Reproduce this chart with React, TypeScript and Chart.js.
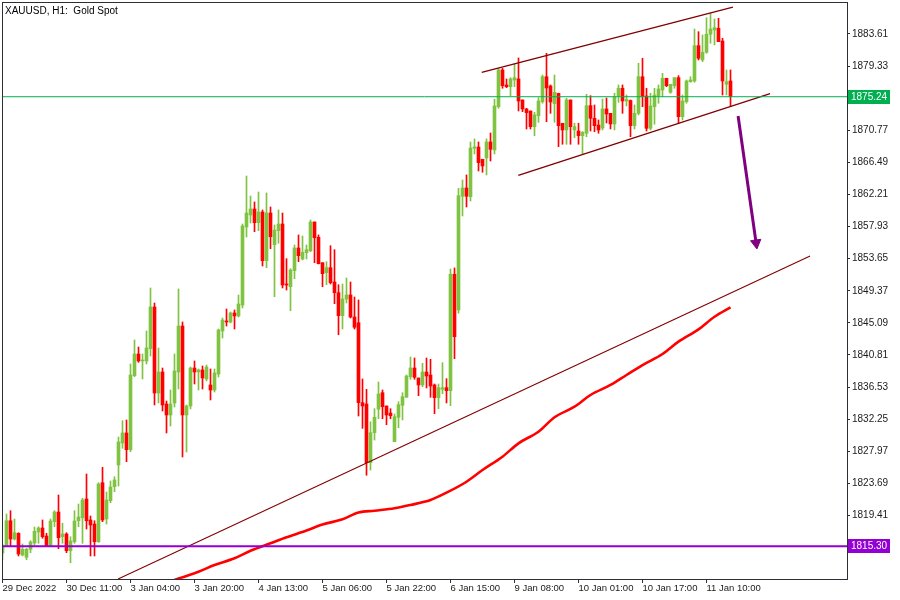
import { useEffect, useRef } from 'react';
import { Chart, registerables } from 'chart.js';

Chart.register(...registerables);

const TITLE = 'XAUUSD, H1:  Gold Spot';

const xLabelIdx = [0, 16, 32, 48, 64, 80, 96, 112, 128, 144, 160, 176];
const xLabels = ['29 Dec 2022', '30 Dec 11:00', '3 Jan 04:00', '3 Jan 20:00', '4 Jan 13:00', '5 Jan 06:00', '5 Jan 22:00', '6 Jan 15:00', '9 Jan 08:00', '10 Jan 01:00', '10 Jan 17:00', '11 Jan 10:00'];
const yTicks = [1819.41, 1823.69, 1827.97, 1832.25, 1836.53, 1840.81, 1845.09, 1849.37, 1853.65, 1857.93, 1862.21, 1866.49, 1870.77, 1875.05, 1879.33, 1883.61];

const opens = [1814.41, 1815.38, 1818.71, 1816.27, 1817.03, 1814.14, 1813.83, 1814.90, 1815.74, 1817.21, 1817.74, 1816.67, 1815.38, 1818.58, 1819.87, 1816.58, 1816.94, 1814.71, 1815.91, 1818.71, 1819.11, 1821.61, 1818.81, 1818.27, 1815.91, 1823.78, 1818.94, 1821.38, 1823.25, 1826.14, 1829.07, 1830.41, 1828.18, 1838.05, 1840.94, 1840.01, 1840.01, 1841.65, 1847.21, 1835.74, 1838.54, 1834.27, 1832.81, 1834.41, 1838.54, 1844.67, 1832.81, 1834.01, 1839.07, 1838.54, 1838.81, 1837.61, 1836.81, 1836.14, 1838.27, 1844.01, 1845.34, 1845.21, 1846.41, 1846.01, 1847.47, 1857.87, 1859.47, 1860.27, 1858.45, 1859.87, 1853.38, 1859.74, 1855.51, 1857.38, 1858.27, 1850.27, 1849.91, 1852.05, 1855.07, 1853.61, 1854.45, 1854.71, 1858.54, 1856.50, 1853.11, 1851.78, 1852.45, 1850.54, 1849.11, 1846.05, 1848.27, 1848.81, 1845.87, 1845.11, 1834.45, 1834.27, 1826.45, 1830.45, 1833.57, 1835.78, 1834.01, 1833.07, 1829.25, 1832.50, 1834.10, 1835.17, 1837.91, 1839.07, 1837.74, 1836.81, 1838.54, 1838.14, 1836.81, 1835.11, 1836.23, 1836.45, 1836.05, 1851.57, 1846.81, 1861.97, 1863.07, 1861.91, 1868.37, 1868.54, 1866.90, 1867.07, 1869.21, 1868.14, 1873.91, 1878.81, 1876.81, 1876.58, 1877.47, 1877.61, 1874.81, 1873.61, 1873.34, 1871.25, 1872.71, 1874.58, 1877.91, 1876.67, 1874.31, 1875.70, 1871.70, 1870.81, 1874.81, 1870.81, 1870.67, 1870.05, 1870.37, 1874.05, 1872.37, 1871.47, 1871.07, 1873.61, 1873.03, 1871.61, 1875.34, 1876.37, 1874.67, 1874.74, 1871.38, 1873.03, 1877.91, 1875.34, 1871.03, 1873.91, 1875.34, 1876.14, 1877.70, 1875.83, 1876.71, 1877.78, 1872.58, 1874.58, 1877.25, 1877.34, 1882.05, 1880.14, 1881.17, 1883.57, 1884.14, 1884.37, 1882.67, 1876.90, 1877.34];
const highs = [1815.61, 1819.61, 1820.05, 1818.94, 1817.11, 1815.61, 1815.03, 1816.05, 1817.87, 1817.91, 1818.81, 1817.03, 1818.94, 1820.05, 1822.14, 1818.37, 1817.11, 1816.58, 1820.05, 1820.94, 1821.70, 1824.94, 1819.34, 1818.71, 1823.78, 1825.83, 1822.54, 1824.01, 1824.58, 1829.87, 1832.05, 1832.14, 1839.61, 1842.81, 1841.87, 1840.94, 1844.01, 1849.74, 1847.74, 1841.74, 1839.07, 1834.67, 1836.14, 1840.94, 1849.61, 1845.21, 1834.14, 1839.21, 1840.01, 1838.94, 1839.34, 1839.47, 1838.94, 1838.94, 1844.27, 1845.74, 1846.94, 1846.54, 1846.81, 1848.81, 1858.27, 1864.67, 1862.01, 1861.21, 1862.54, 1860.14, 1862.41, 1860.54, 1858.14, 1860.14, 1859.74, 1853.65, 1852.31, 1855.47, 1856.81, 1856.67, 1855.47, 1858.81, 1858.54, 1856.81, 1853.11, 1853.25, 1855.38, 1854.85, 1850.18, 1850.27, 1851.07, 1850.54, 1848.54, 1848.14, 1837.61, 1836.23, 1831.91, 1833.65, 1837.21, 1836.14, 1834.01, 1833.65, 1832.94, 1834.58, 1835.78, 1838.14, 1840.54, 1840.41, 1837.74, 1839.70, 1840.41, 1840.23, 1836.94, 1836.94, 1839.78, 1837.65, 1852.27, 1852.41, 1863.03, 1864.14, 1864.81, 1869.21, 1869.61, 1869.21, 1866.90, 1869.61, 1870.41, 1874.90, 1879.03, 1879.03, 1877.61, 1877.78, 1879.57, 1880.41, 1874.81, 1873.70, 1873.34, 1873.17, 1875.11, 1878.14, 1881.03, 1876.81, 1878.14, 1875.70, 1871.70, 1875.03, 1874.81, 1871.70, 1871.70, 1870.60, 1875.57, 1875.38, 1874.14, 1872.14, 1874.94, 1875.07, 1873.03, 1875.70, 1876.81, 1876.81, 1875.47, 1874.81, 1874.14, 1879.70, 1880.37, 1876.37, 1875.70, 1876.37, 1876.81, 1878.37, 1877.70, 1876.90, 1877.78, 1878.05, 1875.47, 1877.47, 1877.91, 1884.27, 1883.91, 1883.47, 1885.78, 1886.37, 1885.61, 1885.70, 1883.03, 1878.81, 1878.81];
const lows = [1813.47, 1815.25, 1815.38, 1816.14, 1814.01, 1814.01, 1813.51, 1814.45, 1815.47, 1815.70, 1816.37, 1815.25, 1815.25, 1817.91, 1814.98, 1815.70, 1814.45, 1813.11, 1815.70, 1817.91, 1815.70, 1817.61, 1814.01, 1814.01, 1815.83, 1818.58, 1818.27, 1821.11, 1822.58, 1823.34, 1828.37, 1826.58, 1827.91, 1837.91, 1839.83, 1837.61, 1839.61, 1840.67, 1834.14, 1834.41, 1833.34, 1830.41, 1831.34, 1833.87, 1836.27, 1827.21, 1827.87, 1833.61, 1836.94, 1836.14, 1836.27, 1837.34, 1834.81, 1835.87, 1837.87, 1843.07, 1844.67, 1845.07, 1844.27, 1845.87, 1847.07, 1856.54, 1858.41, 1857.25, 1857.38, 1852.67, 1852.45, 1854.98, 1848.58, 1855.70, 1849.74, 1849.47, 1846.71, 1850.98, 1853.25, 1853.47, 1853.61, 1854.58, 1853.11, 1852.94, 1849.91, 1850.18, 1850.27, 1847.65, 1843.51, 1844.27, 1847.74, 1845.74, 1844.27, 1832.67, 1831.03, 1824.77, 1825.47, 1829.47, 1832.31, 1832.31, 1831.51, 1832.31, 1829.25, 1831.11, 1832.14, 1835.17, 1837.57, 1837.57, 1835.38, 1836.58, 1836.41, 1835.17, 1832.98, 1833.65, 1835.65, 1834.41, 1834.05, 1840.31, 1846.37, 1859.34, 1860.54, 1861.34, 1867.61, 1865.34, 1865.17, 1864.81, 1866.67, 1867.61, 1873.70, 1876.37, 1876.45, 1875.38, 1876.58, 1873.34, 1873.25, 1870.94, 1870.94, 1870.05, 1871.83, 1874.37, 1871.91, 1873.03, 1871.83, 1868.58, 1868.90, 1868.90, 1868.90, 1869.78, 1868.90, 1867.57, 1869.91, 1870.67, 1870.58, 1870.37, 1870.81, 1871.74, 1870.94, 1870.81, 1874.50, 1873.03, 1874.01, 1869.91, 1870.94, 1872.81, 1873.91, 1870.67, 1870.81, 1871.57, 1874.37, 1875.25, 1876.58, 1875.70, 1876.37, 1871.70, 1872.14, 1874.37, 1877.17, 1877.17, 1880.14, 1879.91, 1881.03, 1882.37, 1882.14, 1882.58, 1875.47, 1875.47, 1873.91];
const closes = [1815.34, 1818.71, 1816.27, 1817.11, 1814.27, 1814.90, 1814.90, 1815.87, 1817.30, 1817.74, 1816.58, 1815.38, 1818.67, 1819.87, 1816.45, 1816.94, 1814.71, 1816.01, 1818.67, 1819.21, 1821.47, 1818.71, 1818.14, 1815.91, 1823.61, 1818.81, 1821.47, 1823.21, 1824.14, 1829.21, 1830.41, 1828.18, 1838.14, 1840.94, 1840.01, 1840.14, 1841.74, 1847.21, 1835.74, 1838.54, 1834.14, 1832.81, 1834.27, 1838.67, 1844.67, 1832.81, 1834.01, 1839.07, 1838.54, 1838.81, 1837.74, 1839.21, 1836.14, 1838.41, 1844.14, 1845.47, 1845.21, 1846.41, 1846.01, 1847.61, 1858.01, 1859.74, 1860.27, 1858.45, 1859.87, 1853.38, 1859.74, 1856.58, 1857.47, 1858.27, 1850.14, 1850.14, 1852.14, 1855.07, 1854.05, 1854.50, 1854.85, 1858.54, 1856.45, 1852.98, 1851.65, 1852.45, 1850.45, 1849.11, 1846.05, 1848.27, 1848.81, 1845.87, 1844.50, 1834.45, 1834.01, 1826.45, 1830.45, 1832.50, 1835.61, 1833.91, 1832.81, 1832.71, 1832.58, 1834.18, 1835.25, 1838.01, 1839.07, 1837.83, 1836.81, 1838.54, 1838.01, 1836.67, 1835.11, 1836.45, 1836.45, 1836.05, 1851.57, 1843.25, 1862.05, 1863.07, 1861.97, 1868.41, 1868.54, 1866.45, 1866.01, 1869.21, 1868.23, 1874.01, 1878.81, 1876.71, 1876.58, 1877.61, 1877.78, 1874.67, 1873.61, 1873.11, 1871.25, 1872.81, 1874.67, 1877.91, 1876.41, 1874.54, 1875.83, 1871.38, 1870.81, 1874.81, 1871.25, 1871.25, 1870.05, 1870.50, 1874.05, 1872.37, 1871.38, 1870.81, 1873.61, 1872.94, 1871.61, 1875.21, 1876.37, 1874.67, 1874.87, 1871.38, 1873.03, 1877.91, 1875.27, 1871.03, 1874.01, 1875.47, 1876.27, 1877.70, 1876.71, 1876.90, 1877.78, 1872.58, 1874.67, 1877.34, 1877.47, 1882.05, 1880.37, 1881.17, 1883.57, 1884.27, 1884.45, 1882.58, 1877.34, 1877.25, 1875.24];

// moving average, read at sampled candles
const maIdx = [40, 44, 49, 53, 58, 62, 67, 71, 76, 80, 85, 89, 93, 98, 102, 107, 111, 116, 120, 125, 129, 134, 138, 143, 147, 152, 156, 160, 165, 169, 174, 178, 182];
const maVal = [1810.2, 1811.0, 1811.9, 1812.8, 1813.7, 1814.7, 1815.7, 1816.5, 1817.4, 1818.2, 1818.9, 1819.8, 1820.05, 1820.37, 1820.81, 1821.47, 1822.45, 1823.91, 1825.47, 1827.25, 1829.03, 1830.58, 1832.5, 1833.91, 1835.47, 1836.81, 1838.14, 1839.47, 1840.94, 1842.58, 1844.23, 1845.91, 1847.17];

// drawn objects (index, price)
const longLineX = [28.9, 201.9];
const longLineY = [1810.94, 1854.01];
const upperChX = [119.8, 182.6];
const upperChY = [1878.5, 1887.18];
const lowerChX = [128.95, 191.9];
const lowerChY = [1864.77, 1875.66];
const arrowX = [183.9, 188.4];
const arrowY = [1872.67, 1855.74];

const currentPrice = 1875.24;
const supportPrice = 1815.3;

const X_MIN = -0.125;
const X_MAX = 211.125;
const Y_MIN = 1810.94;
const Y_MAX = 1887.87;

const GREEN = '#80c342';
const RED = '#ff0000';
const FONT = '"Liberation Sans", Arial, sans-serif';

export default function App() {
  const ref = useRef<HTMLCanvasElement | null>(null);

  useEffect(() => {
    document.body.style.margin = '0';
    const canvas = ref.current;
    if (!canvas) return;

    const colors = opens.map((o, i) => (closes[i] >= o ? GREEN : RED));
    const pts = (xs: number[], ys: number[]) => xs.map((x, k) => ({ x, y: ys[k] }));

    const overlay = {
      id: 'mtOverlay',
      afterDraw(chart: any) {
        const ctx = chart.ctx as CanvasRenderingContext2D;
        const a = chart.chartArea;
        const ys = chart.scales.y;
        ctx.save();
        // frame
        ctx.strokeStyle = '#2b3036';
        ctx.lineWidth = 1;
        ctx.strokeRect(Math.floor(a.left) + 0.5, Math.floor(a.top) + 0.5, Math.round(a.right - a.left), Math.round(a.bottom - a.top));
        // title
        ctx.fillStyle = '#000';
        ctx.font = '10px ' + FONT;
        ctx.textBaseline = 'top';
        ctx.textAlign = 'left';
        ctx.fillText(TITLE, 5, 6);
        // price tags
        const tag = (price: number, bg: string) => {
          const y = ys.getPixelForValue(price);
          ctx.fillStyle = bg;
          ctx.fillRect(a.right + 1, Math.round(y) - 7, 42, 14);
          ctx.fillStyle = '#ffffff';
          ctx.font = '10px ' + FONT;
          ctx.textBaseline = 'middle';
          ctx.fillText(price.toFixed(2), a.right + 4, Math.round(y) + 0.5);
        };
        tag(currentPrice, '#00b050');
        tag(supportPrice, '#9400d3');
        ctx.restore();
      },
    };

    const chart = new Chart(canvas, {
      type: 'bar',
      data: {
        datasets: [
          {
            type: 'bar',
            label: 'wick',
            data: opens.map((_, i) => ({ x: i, y: [lows[i], highs[i]] })) as any,
            backgroundColor: colors,
            barThickness: 1,
            grouped: false,
            minBarLength: 1,
            borderWidth: 0,
            order: 10,
          } as any,
          {
            type: 'bar',
            label: 'body',
            data: opens.map((o, i) => ({ x: i, y: [Math.min(o, closes[i]), Math.max(o, closes[i])] })) as any,
            backgroundColor: colors,
            barThickness: 3,
            grouped: false,
            minBarLength: 1,
            borderWidth: 0,
            order: 9,
          } as any,
          {
            type: 'line',
            label: 'MA',
            data: pts(maIdx, maVal),
            borderColor: '#ff0000',
            borderWidth: 2.6,
            pointRadius: 0,
            cubicInterpolationMode: 'monotone',
            order: 5,
          } as any,
          {
            type: 'line',
            label: 'trend',
            data: pts(longLineX, longLineY),
            borderColor: '#800000',
            borderWidth: 1.1,
            pointRadius: 0,
            order: 4,
          } as any,
          {
            type: 'line',
            label: 'upper',
            data: pts(upperChX, upperChY),
            borderColor: '#800000',
            borderWidth: 1.3,
            pointRadius: 0,
            order: 4,
          } as any,
          {
            type: 'line',
            label: 'lower',
            data: pts(lowerChX, lowerChY),
            borderColor: '#800000',
            borderWidth: 1.3,
            pointRadius: 0,
            order: 4,
          } as any,
          {
            type: 'line',
            label: 'current',
            data: pts([X_MIN, X_MAX], [currentPrice, currentPrice]),
            borderColor: '#00b050',
            borderWidth: 1,
            pointRadius: 0,
            order: 3,
          } as any,
          {
            type: 'line',
            label: 'support',
            data: pts([X_MIN, X_MAX], [supportPrice, supportPrice]),
            borderColor: '#9400d3',
            borderWidth: 2,
            pointRadius: 0,
            order: 3,
          } as any,
          {
            type: 'line',
            label: 'arrow',
            data: pts(arrowX, arrowY),
            borderColor: '#800080',
            borderWidth: 3,
            pointRadius: [0, 6],
            pointStyle: 'triangle',
            rotation: 172,
            pointBackgroundColor: '#800080',
            pointBorderColor: '#800080',
            pointBorderWidth: 1,
            order: 2,
          } as any,
        ],
      },
      options: {
        animation: false,
        responsive: false,
        devicePixelRatio: 1,
        events: [],
        layout: { autoPadding: false, padding: { left: 2, top: 2, right: 0, bottom: 0 } },
        plugins: { legend: { display: false }, tooltip: { enabled: false }, title: { display: false } },
        scales: {
          x: {
            type: 'linear',
            min: X_MIN,
            max: X_MAX,
            offset: false,
            position: 'bottom',
            grid: { display: true, offset: false, drawOnChartArea: false, drawTicks: true, tickLength: 4, color: '#2b3036', tickColor: '#2b3036' },
            border: { display: false },
            ticks: {
              autoSkip: false,
              maxRotation: 0,
              minRotation: 0,
              align: 'start',
              padding: 0,
              color: '#1a1a1a',
              font: { family: FONT, size: 9.5 },
              callback: (v: any) => {
                const k = xLabelIdx.indexOf(Number(v));
                return k >= 0 ? xLabels[k] : '';
              },
            },
            afterBuildTicks: (s: any) => {
              s.ticks = xLabelIdx.map((v) => ({ value: v }));
            },
            afterFit: (s: any) => {
              s.height = 21;
              s.paddingLeft = 0;
              s.paddingRight = 0;
              s.paddingTop = 0;
              s.paddingBottom = 0;
            },
          } as any,
          y: {
            type: 'linear',
            position: 'right',
            min: Y_MIN,
            max: Y_MAX,
            grid: { display: true, drawOnChartArea: false, drawTicks: true, tickLength: 3, color: '#2b3036', tickColor: '#2b3036' },
            border: { display: false },
            ticks: {
              padding: 2,
              color: '#1a1a1a',
              font: { family: FONT, size: 10 },
              callback: (v: any) => Number(v).toFixed(2),
            },
            afterBuildTicks: (s: any) => {
              s.ticks = yTicks.map((v) => ({ value: v }));
            },
            afterFit: (s: any) => {
              s.width = 53;
              s.paddingLeft = 0;
              s.paddingRight = 0;
              s.paddingTop = 0;
              s.paddingBottom = 0;
            },
          } as any,
        },
      } as any,
      plugins: [overlay],
    });

    return () => chart.destroy();
  }, []);

  return (
    <div style={{ position: 'fixed', left: 0, top: 0, width: 900, height: 600, background: '#ffffff' }}>
      <canvas ref={ref} width={900} height={600} style={{ width: 900, height: 600, display: 'block' }} />
    </div>
  );
}
